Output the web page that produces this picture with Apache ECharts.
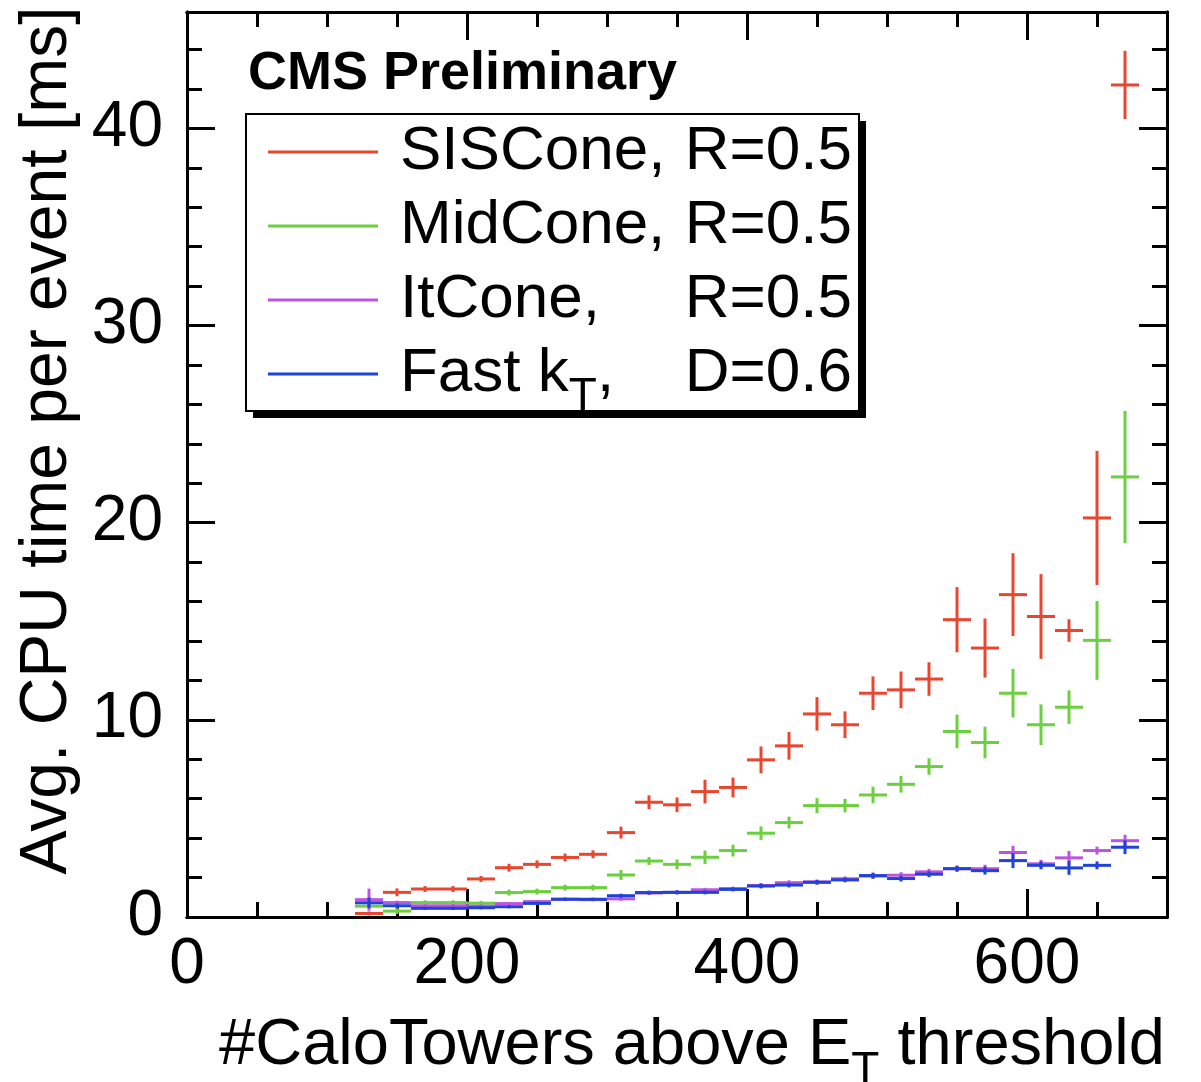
<!DOCTYPE html>
<html>
<head>
<meta charset="utf-8">
<script src="https://cdn.jsdelivr.net/npm/echarts@6/dist/echarts.min.js"></script>
<style>
html, body { margin: 0; padding: 0; background: #fff; }
#chart { width: 1201px; height: 1082px; }
</style>
</head>
<body>
<div id="chart"></div>
<script>
// bin centres (#CaloTowers), bins are 20 wide
const binCenters = [130, 150, 170, 190, 210, 230, 250, 270, 290, 310, 330, 350, 370, 390,
                    410, 430, 450, 470, 490, 510, 530, 550, 570, 590, 610, 630, 650, 670];
const binWidth = 20;

// SISCone, R=0.5
const sisValues = [0.18, 1.25, 1.42, 1.42, 1.93, 2.50, 2.67, 3.02, 3.18, 4.28, 5.82, 5.69, 6.36, 6.57,
                   7.97, 8.68, 10.3, 9.75, 11.35, 11.52, 12.07, 15.08, 13.64, 16.35, 15.24, 14.53, 20.24, 42.2];
const sisErrors = [0.10, 0.20, 0.15, 0.15, 0.15, 0.20, 0.20, 0.20, 0.20, 0.30, 0.35, 0.37, 0.60, 0.50,
                   0.68, 0.70, 0.85, 0.68, 0.85, 0.93, 0.85, 1.65, 1.50, 2.10, 2.15, 0.57, 3.40, 1.73];

// MidCone, R=0.5
const midValues = [0.55, 0.30, 0.73, 0.73, 0.70, 1.24, 1.29, 1.49, 1.49, 2.13, 2.84, 2.67, 3.03, 3.37,
                   4.25, 4.79, 5.65, 5.65, 6.19, 6.73, 7.63, 9.41, 8.85, 11.35, 9.75, 10.64, 14.03, 22.32];
const midErrors = [0.10, 0.15, 0.12, 0.12, 0.12, 0.15, 0.15, 0.15, 0.15, 0.25, 0.20, 0.25, 0.34, 0.30,
                   0.34, 0.30, 0.38, 0.34, 0.42, 0.42, 0.42, 0.85, 0.80, 1.23, 1.03, 0.85, 2.00, 3.35];

// ItCone, R=0.5
const itValues = [0.88, 0.73, 0.57, 0.57, 0.55, 0.68, 0.78, 0.90, 0.88, 0.92, 1.22, 1.25, 1.38, 1.44,
                  1.60, 1.74, 1.78, 1.94, 2.08, 2.12, 2.29, 2.45, 2.45, 3.27, 2.70, 3.00, 3.37, 3.87];
const itErrors = [0.56, 0.10, 0.08, 0.08, 0.08, 0.08, 0.08, 0.08, 0.08, 0.10, 0.10, 0.10, 0.10, 0.10,
                  0.12, 0.12, 0.12, 0.12, 0.15, 0.15, 0.15, 0.15, 0.20, 0.34, 0.20, 0.35, 0.20, 0.30];

// Fast kT, D=0.6
const ktValues = [0.72, 0.57, 0.44, 0.44, 0.47, 0.52, 0.69, 0.90, 0.90, 1.08, 1.24, 1.25, 1.25, 1.40,
                  1.57, 1.62, 1.76, 1.88, 2.10, 1.95, 2.17, 2.45, 2.35, 2.86, 2.62, 2.49, 2.62, 3.54];
const ktErrors = [0.27, 0.12, 0.08, 0.08, 0.08, 0.08, 0.08, 0.08, 0.08, 0.10, 0.10, 0.10, 0.10, 0.10,
                  0.12, 0.12, 0.12, 0.12, 0.15, 0.15, 0.15, 0.15, 0.20, 0.38, 0.20, 0.35, 0.20, 0.35];

const xTicks = [0, 200, 400, 600];
const yTicks = [0, 10, 20, 30, 40];

const font = '"Liberation Sans", Arial, Helvetica, sans-serif';
const black = '#000';

// histogram bin drawn as horizontal bar over the bin width + vertical error bar
function renderBin(params, api) {
    const x = api.value(0), y = api.value(1), e = api.value(2);
    const l = api.coord([x - binWidth / 2, y]);
    const r = api.coord([x + binWidth / 2, y]);
    const t = api.coord([x, y + e]);
    const b = api.coord([x, y - e]);
    const style = { stroke: api.visual('color'), lineWidth: 3, fill: null };
    return {
        type: 'group',
        children: [
            { type: 'line', shape: { x1: l[0], y1: l[1], x2: r[0], y2: r[1] }, style: style },
            { type: 'line', shape: { x1: t[0], y1: t[1], x2: b[0], y2: b[1] }, style: style }
        ]
    };
}

function histSeries(name, color, values, errors) {
    return {
        name: name,
        type: 'custom',
        renderItem: renderBin,
        clip: true,
        itemStyle: { color: color },
        encode: { x: 0, y: 1 },
        data: binCenters.map((c, i) => [c, values[i], errors[i]])
    };
}

function xAxisOf(position, interval, tickLen, labels) {
    return {
        type: 'value', position: position, min: 0, max: 700, interval: interval,
        axisLine: { show: true, onZero: false, lineStyle: { color: black, width: 3 } },
        axisTick: { show: true, inside: true, length: tickLen, lineStyle: { color: black, width: 3 } },
        axisLabel: {
            show: labels, showMaxLabel: false, margin: 16,
            color: black, fontSize: 64, fontFamily: font,
            formatter: v => xTicks.includes(v) ? String(v) : ''
        },
        splitLine: { show: false }
    };
}

function yAxisOf(position, interval, tickLen, labels) {
    return {
        type: 'value', position: position, min: 0, max: 45.9, interval: interval,
        axisLine: { show: true, onZero: false, lineStyle: { color: black, width: 3 } },
        axisTick: { show: true, inside: true, length: tickLen, lineStyle: { color: black, width: 3 } },
        axisLabel: {
            show: labels, showMaxLabel: false, margin: 24,
            color: black, fontSize: 64, fontFamily: font,
            formatter: v => yTicks.includes(v) ? String(v) : ''
        },
        splitLine: { show: false }
    };
}

const xMain = xAxisOf('bottom', 200, 28, true);
xMain.name = '{n|#CaloTowers above E}{s|T}{n| threshold}';
xMain.nameLocation = 'middle';
xMain.nameGap = 97;
xMain.nameTextStyle = {
    padding: [0, 0, 0, 30],
    rich: {
        n: { fontSize: 65, fontFamily: font, color: black, lineHeight: 64 },
        s: { fontSize: 46, fontFamily: font, color: black, verticalAlign: 'bottom', padding: [0, 0, -16, 0] }
    }
};

const yMain = yAxisOf('left', 10, 28, true);
yMain.name = 'Avg. CPU time per event [ms]';
yMain.nameLocation = 'middle';
yMain.nameGap = 100;
yMain.nameTextStyle = { fontSize: 66, fontFamily: font, color: black, padding: [0, 0, 0, 48] };

const legendRich = {
    a: { fontSize: 62, fontFamily: font, color: black, lineHeight: 62 },
    s: { fontSize: 46, fontFamily: font, color: black, verticalAlign: 'bottom', padding: [0, 0, -15, 0] },
    b: { fontSize: 62, fontFamily: font, color: black, lineHeight: 62, align: 'right' }
};
const legendLabels = {
    'SISCone, R=0.5': '{a|SISCone,}{b|R=0.5}',
    'MidCone, R=0.5': '{a|MidCone,}{b|R=0.5}',
    'ItCone, R=0.5': '{a|ItCone,}{b|R=0.5}',
    'Fast kT, D=0.6': '{a|Fast k}{s|T}{a|,}{b|D=0.6}'
};

const option = {
    animation: false,
    backgroundColor: '#fff',
    title: {
        text: 'CMS Preliminary',
        left: 243, top: 42,
        textStyle: { fontSize: 54, fontWeight: 'bold', fontFamily: font, color: black }
    },
    // legend frame with its drop shadow
    graphic: [
        { type: 'rect', z: 1, left: 253, top: 121, shape: { width: 613, height: 297 }, style: { fill: black } },
        { type: 'rect', z: 2, left: 245, top: 113, shape: { width: 613, height: 297 },
          style: { fill: '#fff', stroke: black, lineWidth: 2 } }
    ],
    legend: {
        z: 5,
        orient: 'vertical',
        left: 245, top: 113,
        padding: [8, 6, 8, 23],
        itemGap: 12,
        itemWidth: 110, itemHeight: 3,
        icon: 'rect',
        formatter: n => legendLabels[n],
        textStyle: { width: 452, padding: [0, 0, 0, 17], rich: legendRich },
        data: ['SISCone, R=0.5', 'MidCone, R=0.5', 'ItCone, R=0.5', 'Fast kT, D=0.6']
    },
    grid: { left: 187, right: 34, top: 12, bottom: 165, containLabel: false, outerBoundsMode: 'none' },
    xAxis: [
        xMain,
        xAxisOf('bottom', 50, 15, false),
        xAxisOf('top', 200, 28, false),
        xAxisOf('top', 50, 15, false)
    ],
    yAxis: [
        yMain,
        yAxisOf('left', 2, 15, false),
        yAxisOf('right', 10, 28, false),
        yAxisOf('right', 2, 15, false)
    ],
    series: [
        histSeries('SISCone, R=0.5', '#e8462f', sisValues, sisErrors),
        histSeries('MidCone, R=0.5', '#6ccf3f', midValues, midErrors),
        histSeries('ItCone, R=0.5', '#bb55e0', itValues, itErrors),
        histSeries('Fast kT, D=0.6', '#1f42d8', ktValues, ktErrors)
    ]
};

const chart = echarts.init(document.getElementById('chart'), null, { renderer: 'canvas' });
chart.setOption(option);
</script>
</body>
</html>
